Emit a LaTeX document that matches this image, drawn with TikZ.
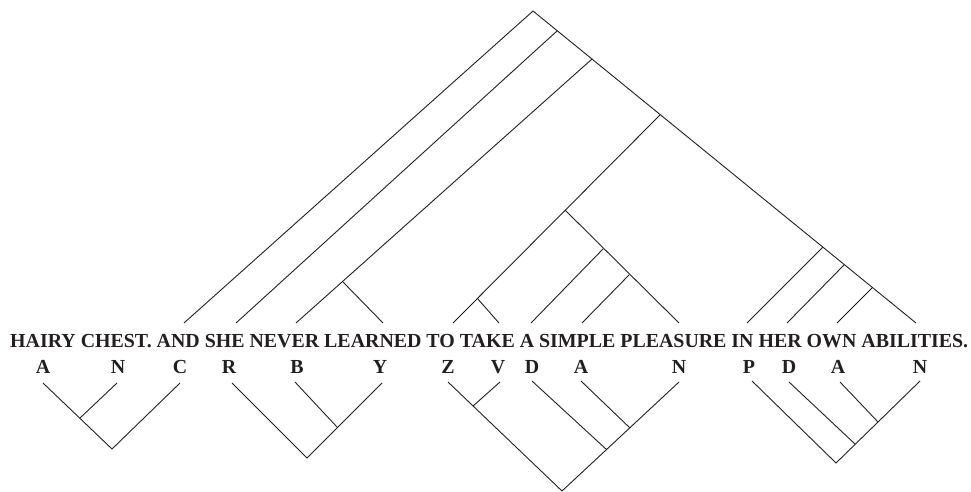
\documentclass[tikz,border=0pt]{standalone}
\usepackage{fontspec}
\setmainfont{Liberation Serif}
\usepackage{tikz}
\usetikzlibrary{positioning,calc}
\definecolor{ink}{RGB}{35,31,32}

\begin{document}
\begin{tikzpicture}[x=1pt,y=-1pt]
\tikzstyle{branch}=[draw=ink,line width=0.9pt]
\tikzstyle{word}=[text=ink,inner sep=0pt,font=\fontsize{19.9}{22}\selectfont\bfseries]
\tikzstyle{cat}=[word,anchor=base]
\useasboundingbox (0,0) rectangle (971,492);
\node[word,anchor=base west] (sent) at (10,347.5) {HAIRY CHEST. AND SHE NEVER LEARNED TO TAKE A SIMPLE PLEASURE IN HER OWN ABILITIES.};
\coordinate (root) at (533,11);
\coordinate (s2) at (557,31);
\coordinate (s3) at (592,59);
\coordinate (s4) at (660,115);
\coordinate (vp) at (565,210);
\coordinate (to) at (477,298);
\coordinate (np) at (603,249);
\coordinate (nbar) at (629,275);
\coordinate (pp) at (823,247);
\coordinate (pp2) at (844,265);
\coordinate (pp3) at (872,288);
\coordinate (nl) at (343,282);
\coordinate (wAND) at (184,323);
\coordinate (wSHE) at (236,323);
\coordinate (wNEVER) at (296,323);
\coordinate (wLEARNED) at (383,323);
\coordinate (wTO) at (453,323);
\coordinate (wTAKE) at (499,323);
\coordinate (wA) at (531,323);
\coordinate (wSIMPLE) at (582,323);
\coordinate (wPLEASURE) at (679,323);
\coordinate (wIN) at (747,323);
\coordinate (wHER) at (787,323);
\coordinate (wOWN) at (837,323);
\coordinate (wABIL) at (916,323);
\draw[branch] (root)--(wAND); \draw[branch] (root)--(wABIL);
\draw[branch] (s2)--(wSHE); \draw[branch] (s3)--(wNEVER); \draw[branch] (nl)--(wLEARNED);
\draw[branch] (s4)--(wTO); \draw[branch] (to)--(wTAKE);
\draw[branch] (vp)--(wPLEASURE); \draw[branch] (np)--(wA); \draw[branch] (nbar)--(wSIMPLE);
\draw[branch] (pp)--(wIN); \draw[branch] (pp2)--(wHER); \draw[branch] (pp3)--(wOWN);
\node[cat] (cA) at (43,373) {A};
\node[cat] (cN) at (118,373) {N};
\node[cat] (cC) at (180,373) {C};
\node[cat] (cR) at (229,373) {R};
\node[cat] (cB) at (297,373) {B};
\node[cat] (cY) at (380,373) {Y};
\node[cat] (cZ) at (448,373) {Z};
\node[cat] (cV) at (498,373) {V};
\node[cat] (cD) at (532,373) {D};
\node[cat] (cA2) at (581,373) {A};
\node[cat] (cN2) at (679,373) {N};
\node[cat] (cP) at (749,373) {P};
\node[cat] (cD2) at (789,373) {D};
\node[cat] (cA3) at (838,373) {A};
\node[cat] (cN3) at (920,373) {N};
\coordinate (tA) at (43,383);
\coordinate (tN) at (117,383);
\coordinate (tC) at (180,383);
\coordinate (j1) at (80,418);
\coordinate (b1) at (112,449);
\draw[branch] (tA)--(b1)--(tC); \draw[branch] (tN)--(j1);
\coordinate (tR) at (232,383);
\coordinate (tB) at (295,382);
\coordinate (tY) at (382,383);
\coordinate (j2) at (337,427);
\coordinate (b2) at (307,458);
\draw[branch] (tR)--(b2)--(tY); \draw[branch] (tB)--(j2);
\coordinate (tZ) at (448,382);
\coordinate (tV) at (500,382);
\coordinate (tD) at (532,381);
\coordinate (tA2) at (581,381);
\coordinate (tN2) at (679,382);
\coordinate (j3) at (473,406);
\coordinate (j4) at (630,428);
\coordinate (j5) at (607,450);
\coordinate (b3) at (562,491);
\draw[branch] (tZ)--(b3)--(tN2); \draw[branch] (tV)--(j3);
\draw[branch] (tD)--(j5); \draw[branch] (tA2)--(j4);
\coordinate (tP) at (752,381);
\coordinate (tD2) at (789,382);
\coordinate (tA3) at (840,382);
\coordinate (tN3) at (920,381);
\coordinate (j6) at (878,422);
\coordinate (j7) at (855,444);
\coordinate (b4) at (836,463);
\draw[branch] (tP)--(b4)--(tN3); \draw[branch] (tD2)--(j7); \draw[branch] (tA3)--(j6);
\end{tikzpicture}
\end{document}
